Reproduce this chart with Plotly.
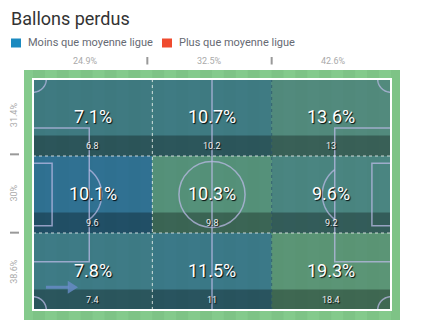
import numpy as np
import plotly.graph_objects as go

# ---------------- data ----------------
team_pct = [[7.1, 10.7, 13.6],
            [10.1, 10.3, 9.6],
            [7.8, 11.5, 19.3]]
league_pct = [[6.8, 10.2, 13],
              [9.6, 9.8, 9.2],
              [7.4, 11, 18.4]]
col_share = [24.9, 32.5, 42.6]
row_share = [31.4, 30, 38.6]
title = "Ballons perdus"
legend_labels = ["Moins que moyenne ligue", "Plus que moyenne ligue"]

# ---------------- styles ----------------
cell_colors = [["#3e7a80", "#3e7b82", "#528a7c"],
               ["#2f7191", "#55917a", "#4a8580"],
               ["#3d7b85", "#3a7987", "#5a9576"]]
legend_colors = ["#1b8ac0", "#ef4b2f"]
W, H = 427, 330
FONT = "Roboto"
PL, PW = 105.0, 68.0            # pitch units
px_l, px_r, py_t, py_b = 33, 391, 79, 310   # pitch pixel box
sx = (px_r - px_l) / PL
sy = (py_b - py_t) / PW
out_l, out_r, out_t, out_b = 24, 400, 70, 320
base_green = (130, 200, 138)
alpha = 0.78


def fx(px):
    return px / W


def fy(py):
    return 1 - py / H


def overlay(hexc):
    t = [int(hexc[i:i + 2], 16) for i in (1, 3, 5)]
    o = [min(255, max(0, round((t[k] - (1 - alpha) * base_green[k]) / alpha))) for k in range(3)]
    return f"rgba({o[0]},{o[1]},{o[2]},{alpha})"


shapes = []
annotations = []

# stripes over the whole green area
xmin = -(px_l - out_l) / sx
xmax = PL + (out_r - px_r) / sx
ymin = -(py_t - out_t) / sy
ymax = PW + (out_b - py_b) / sy
stripe_w = 3.5
x = -3.5
k = 0
while x < xmax:
    shapes.append(dict(type="rect", xref="x", yref="y", x0=x, x1=x + stripe_w, y0=ymin - 1, y1=ymax + 1,
                       fillcolor="#84ca8c" if k % 2 == 0 else "#7ec386", line_width=0, layer="below"))
    x += stripe_w
    k += 1

nrows, ncols = len(team_pct), len(team_pct[0])
cw, ch = PL / ncols, PW / nrows
band_h = 6.0

# cells
for r in range(nrows):
    for c in range(ncols):
        shapes.append(dict(type="rect", xref="x", yref="y", x0=c * cw, x1=(c + 1) * cw,
                           y0=r * ch, y1=(r + 1) * ch, fillcolor=overlay(cell_colors[r][c]),
                           line_width=0, layer="below"))
# dark bands
for r in range(nrows):
    shapes.append(dict(type="rect", xref="x", yref="y", x0=0, x1=PL,
                       y0=(r + 1) * ch - band_h, y1=(r + 1) * ch,
                       fillcolor="rgba(0,0,0,0.3)", line_width=0, layer="below"))

# pitch markings
lc = "rgba(185,185,228,0.75)"
lw = 1.5


def seg(x0, y0, x1, y1, color=lc, width=lw, dash=None):
    d = dict(type="line", xref="x", yref="y", x0=x0, y0=y0, x1=x1, y1=y1,
             line=dict(color=color, width=width), layer="below")
    if dash:
        d["line"]["dash"] = dash
    shapes.append(d)


def box(x0, y0, x1, y1):
    shapes.append(dict(type="rect", xref="x", yref="y", x0=x0, x1=x1, y0=y0, y1=y1,
                       line=dict(color=lc, width=lw), fillcolor="rgba(0,0,0,0)", layer="below"))


def arc(cx, cy, rad, a0, a1, n=40):
    t = np.linspace(np.radians(a0), np.radians(a1), n)
    pts = [f"{cx + rad * np.cos(a):.3f},{cy + rad * np.sin(a):.3f}" for a in t]
    shapes.append(dict(type="path", xref="x", yref="y", path="M" + " L".join(pts),
                       line=dict(color=lc, width=lw), layer="below"))


seg(PL / 2, 0, PL / 2, PW)
shapes.append(dict(type="circle", xref="x", yref="y", x0=PL / 2 - 9.7, x1=PL / 2 + 9.7,
                   y0=PW / 2 - 9.7, y1=PW / 2 + 9.7, line=dict(color=lc, width=lw), layer="below"))
# boxes
box(0, 14.4, 16.5, 53.8)
box(0, 24.8, 5.6, 43.2)
box(PL - 16.5, 14.4, PL, 53.8)
box(PL - 5.6, 24.8, PL, 43.2)
# penalty arcs
ang = np.degrees(np.arccos((16.5 - 11) / 9.15))
arc(11, PW / 2, 9.15, -ang, ang)
arc(PL - 11, PW / 2, 9.15, 180 - ang, 180 + ang)
# corner arcs
cr = 3.9
arc(0, 0, cr, 0, 90)
arc(PL, 0, cr, 90, 180)
arc(0, PW, cr, -90, 0)
arc(PL, PW, cr, 180, 270)
# attack arrow
ac = "rgba(105,140,200,0.8)"
shapes.append(dict(type="line", xref="x", yref="y", x0=3.8, y0=61.3, x1=10.6, y1=61.3,
                   line=dict(color=ac, width=3), layer="below"))
shapes.append(dict(type="path", xref="x", yref="y", path="M10.2,59.4 L13.2,61.3 L10.2,63.2 Z",
                   fillcolor=ac, line_width=0, layer="below"))

# dashed zone separators
for c in range(1, ncols):
    seg(c * cw, 0, c * cw, PW, color="rgba(255,255,255,0.75)" if c == 1 else "rgba(40,80,110,0.7)",
        width=1, dash="3px,3px")
for r in range(1, nrows):
    seg(0, r * ch, PL, r * ch, color="rgba(255,255,255,0.75)", width=1, dash="3px,3px")

# white pitch border
shapes.append(dict(type="rect", xref="x", yref="y", x0=0, x1=PL, y0=0, y1=PW,
                   line=dict(color="white", width=2), fillcolor="rgba(0,0,0,0)", layer="below"))

# cell labels
for r in range(nrows):
    for c in range(ncols):
        annotations.append(dict(x=(c + 0.5) * cw, y=(r + 0.5) * ch - 0.3, xref="x", yref="y",
                                xanchor="center", yanchor="middle",
                                text=f"{team_pct[r][c]:g}%", showarrow=False,
                                font=dict(family=FONT, size=18, color="white",
                                          shadow="1px 1px 1px rgba(0,0,0,0.95)")))
        annotations.append(dict(x=(c + 0.5) * cw, y=(r + 1) * ch - band_h / 2, xref="x", yref="y",
                                xanchor="center", yanchor="middle",
                                text=f"{league_pct[r][c]:g}", showarrow=False,
                                font=dict(family=FONT, size=9, color="#f0f0f0",
                                          shadow="1px 1px 1px rgba(0,0,0,0.9)")))

# title & legend
annotations.append(dict(x=fx(9), y=fy(18.5), xref="paper", yref="paper", xanchor="left", yanchor="middle",
                        text=title, showarrow=False, font=dict(family=FONT, size=18, color="#333333")))
leg_x = [11, 162]
for i, lab in enumerate(legend_labels):
    shapes.append(dict(type="rect", xref="paper", yref="paper", x0=fx(leg_x[i]), x1=fx(leg_x[i] + 10),
                       y0=fy(47.5), y1=fy(38.5), fillcolor=legend_colors[i], line_width=0))
    annotations.append(dict(x=fx(leg_x[i] + 15), y=fy(42.5), xref="paper", yref="paper",
                            xanchor="left", yanchor="middle", text=lab, showarrow=False,
                            font=dict(family=FONT, size=11, color="#666a73")))

# top (column share) labels
tx0, tx1 = 23, 396
tstep = (tx1 - tx0) / ncols
for c in range(ncols):
    annotations.append(dict(x=fx(tx0 + (c + 0.5) * tstep), y=fy(60.5), xref="paper", yref="paper",
                            xanchor="center", yanchor="middle",
                            text=f"{col_share[c]:g}%", showarrow=False,
                            font=dict(family=FONT, size=9, color="#aaaaaa")))
for c in range(1, ncols):
    xx = fx(tx0 + c * tstep)
    shapes.append(dict(type="line", xref="paper", yref="paper", x0=xx, x1=xx, y0=fy(57), y1=fy(64.5),
                       line=dict(color="#999999", width=2)))

# left (row share) labels
ly0, ly1 = 76, 311
lstep = (ly1 - ly0) / nrows
for r in range(nrows):
    annotations.append(dict(x=fx(14), y=fy(ly0 + (r + 0.5) * lstep), xref="paper", yref="paper",
                            xanchor="center", yanchor="middle",
                            text=f"{row_share[r]:g}%", showarrow=False, textangle=-90,
                            font=dict(family=FONT, size=9, color="#aaaaaa")))
for r in range(1, nrows):
    yy = fy(ly0 + r * lstep)
    shapes.append(dict(type="line", xref="paper", yref="paper", x0=fx(10), x1=fx(19), y0=yy, y1=yy,
                       line=dict(color="#999999", width=2)))

fig = go.Figure()
fig.update_layout(
    width=W, height=H, margin=dict(l=0, r=0, t=0, b=0),
    paper_bgcolor="white", plot_bgcolor="#82c88a",
    xaxis=dict(domain=[fx(out_l), fx(out_r)], range=[xmin, xmax], visible=False, fixedrange=True),
    yaxis=dict(domain=[fy(out_b), fy(out_t)], range=[ymax, ymin], visible=False, fixedrange=True),
    shapes=shapes, annotations=annotations, showlegend=False,
)
fig.write_html("out.html")
